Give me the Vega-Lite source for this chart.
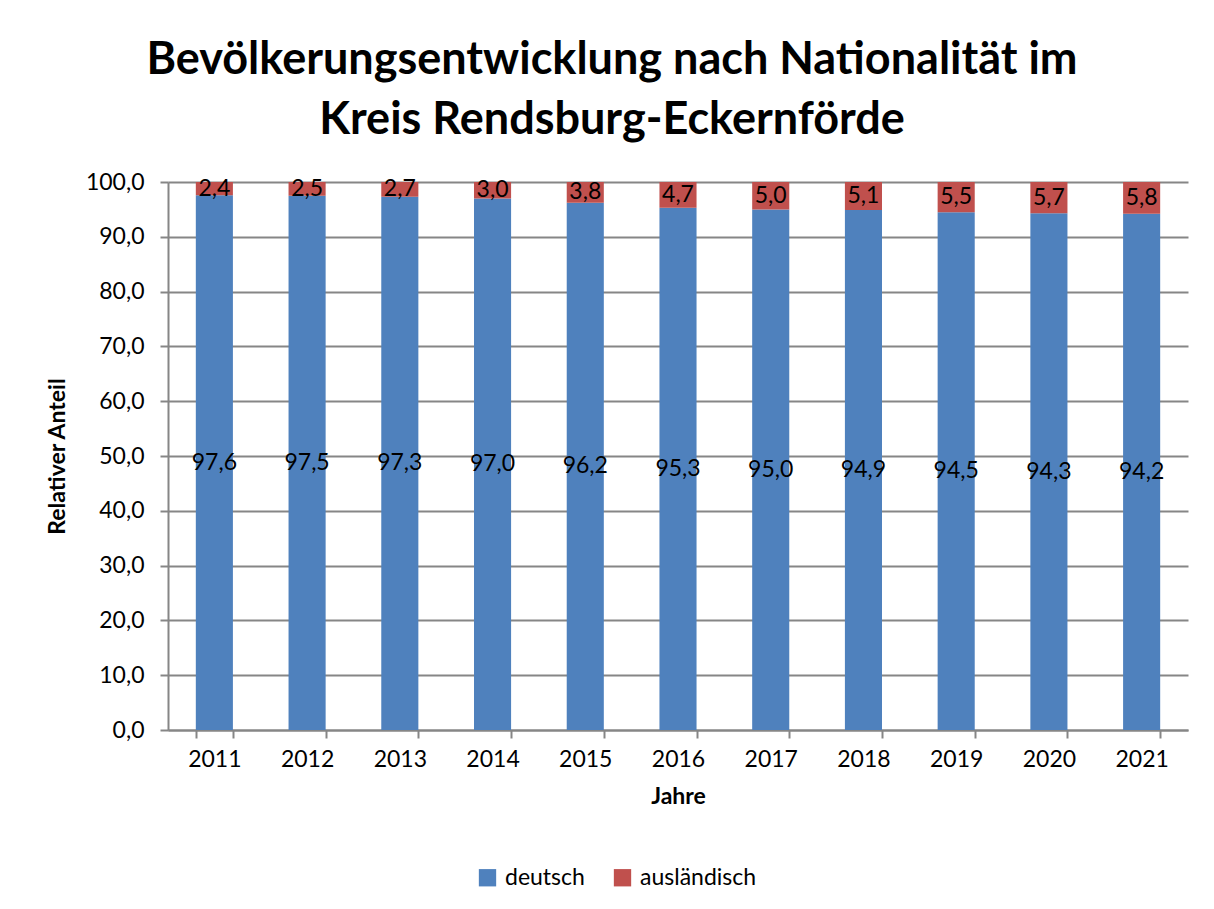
{
  "$schema": "https://vega.github.io/schema/vega-lite/v6.json",
  "width": 1020,
  "height": 548,
  "autosize": {"type": "none"},
  "padding": {"left": 168, "top": 182, "right": 26, "bottom": 179},
  "background": "white",
  "config": {
    "locale": {"number": {"decimal": ",", "thousands": ".", "grouping": [3], "currency": ["", " €"]}},
    "font": "Lato",
    "view": {"stroke": null}
  },
  "title": {
    "text": ["Bevölkerungsentwicklung nach Nationalität im", "Kreis Rendsburg-Eckernförde"],
    "fontSize": 45,
    "fontWeight": "bold",
    "font": "Lato",
    "color": "#000000",
    "anchor": "middle",
    "dx": -66,
    "offset": 28,
    "lineHeight": 60
  },
  "data": {
    "values": [
      {"Jahr": "2011", "Nationalität": "deutsch", "Anteil": 97.6},
      {"Jahr": "2012", "Nationalität": "deutsch", "Anteil": 97.5},
      {"Jahr": "2013", "Nationalität": "deutsch", "Anteil": 97.3},
      {"Jahr": "2014", "Nationalität": "deutsch", "Anteil": 97.0},
      {"Jahr": "2015", "Nationalität": "deutsch", "Anteil": 96.2},
      {"Jahr": "2016", "Nationalität": "deutsch", "Anteil": 95.3},
      {"Jahr": "2017", "Nationalität": "deutsch", "Anteil": 95.0},
      {"Jahr": "2018", "Nationalität": "deutsch", "Anteil": 94.9},
      {"Jahr": "2019", "Nationalität": "deutsch", "Anteil": 94.5},
      {"Jahr": "2020", "Nationalität": "deutsch", "Anteil": 94.3},
      {"Jahr": "2021", "Nationalität": "deutsch", "Anteil": 94.2},
      {"Jahr": "2011", "Nationalität": "ausländisch", "Anteil": 2.4},
      {"Jahr": "2012", "Nationalität": "ausländisch", "Anteil": 2.5},
      {"Jahr": "2013", "Nationalität": "ausländisch", "Anteil": 2.7},
      {"Jahr": "2014", "Nationalität": "ausländisch", "Anteil": 3.0},
      {"Jahr": "2015", "Nationalität": "ausländisch", "Anteil": 3.8},
      {"Jahr": "2016", "Nationalität": "ausländisch", "Anteil": 4.7},
      {"Jahr": "2017", "Nationalität": "ausländisch", "Anteil": 5.0},
      {"Jahr": "2018", "Nationalität": "ausländisch", "Anteil": 5.1},
      {"Jahr": "2019", "Nationalität": "ausländisch", "Anteil": 5.5},
      {"Jahr": "2020", "Nationalität": "ausländisch", "Anteil": 5.7},
      {"Jahr": "2021", "Nationalität": "ausländisch", "Anteil": 5.8}
    ]
  },
  "transform": [
    {"calculate": "datum['Nationalität'] === 'deutsch' ? 0 : 1", "as": "ord"},
    {"stack": "Anteil", "groupby": ["Jahr"], "sort": [{"field": "ord", "order": "ascending"}], "as": ["y0", "y1"]},
    {"calculate": "(datum.y0 + datum.y1) / 2", "as": "mid"}
  ],
  "encoding": {
    "x": {
      "field": "Jahr",
      "type": "ordinal",
      "scale": {"paddingInner": 0.6, "paddingOuter": 0.3},
      "axis": {
        "title": "Jahre",
        "titleFontSize": 23,
        "titleFontWeight": "bold",
        "titleColor": "#000000",
        "titlePadding": 14,
        "labelAngle": 0,
        "labelFontSize": 23,
        "labelColor": "#000000",
        "labelPadding": 10,
        "domainColor": "#868686",
        "domainWidth": 2,
        "tickColor": "#868686",
        "tickWidth": 2,
        "tickSize": 8,
        "tickBand": "extent",
        "grid": false
      }
    }
  },
  "layer": [
    {
      "mark": {"type": "bar"},
      "encoding": {
        "y": {
          "field": "y1",
          "type": "quantitative",
          "scale": {"domain": [0, 100], "nice": false},
          "axis": {
            "title": "Relativer Anteil",
            "titleFontSize": 23,
            "titleFontWeight": "bold",
            "titleColor": "#000000",
            "titlePadding": 16,
            "values": [0, 10, 20, 30, 40, 50, 60, 70, 80, 90, 100],
            "format": ".1f",
            "labelFontSize": 23,
            "labelColor": "#000000",
            "labelPadding": 16,
            "domainColor": "#868686",
            "domainWidth": 2,
            "tickColor": "#868686",
            "tickWidth": 2,
            "tickSize": 8,
            "gridColor": "#868686",
            "gridWidth": 2
          }
        },
        "y2": {"field": "y0"},
        "color": {
          "field": "Nationalität",
          "type": "nominal",
          "scale": {"domain": ["deutsch", "ausländisch"], "range": ["#4F81BD", "#C0504D"]},
          "legend": {
            "title": null,
            "orient": "none",
            "direction": "horizontal",
            "legendX": 308,
            "legendY": 684,
            "symbolType": "square",
            "symbolSize": 300,
            "symbolStrokeWidth": 0,
            "labelFontSize": 23,
            "labelColor": "#000000",
            "columnPadding": 26,
            "labelOffset": 6
          }
        }
      }
    },
    {
      "mark": {"type": "text", "fontSize": 23, "color": "#000000", "baseline": "middle"},
      "encoding": {
        "y": {"field": "mid", "type": "quantitative"},
        "text": {"field": "Anteil", "type": "quantitative", "format": ".1f"}
      }
    }
  ]
}
